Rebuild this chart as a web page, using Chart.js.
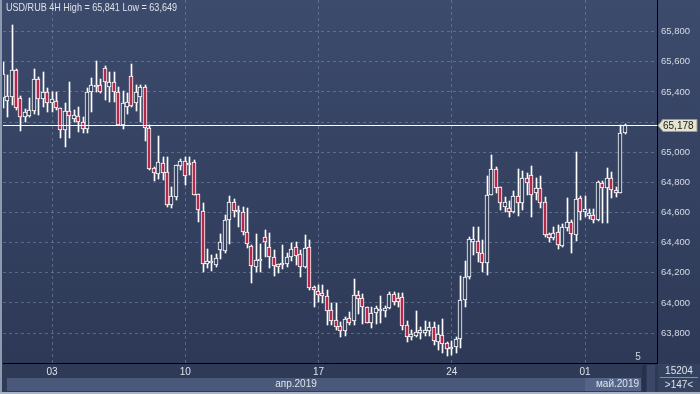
<!DOCTYPE html>
<html>
<head>
<meta charset="utf-8">
<script src="https://cdn.jsdelivr.net/npm/chart.js@4.4.1/dist/chart.umd.min.js"></script>
<style>
html, body { margin:0; padding:0; background:#2c3754; }
#wrap { width:700px; height:394px; }
</style>
</head>
<body>
<div id="wrap"><canvas id="chart" width="700" height="394"></canvas></div>
<script>
// USD/RUB 4H candles
var opens = [65.36,65.342,65.369,65.546,65.358,65.236,65.24,65.276,65.484,65.353,
	65.398,65.325,65.34,65.296,65.148,65.274,65.221,65.243,65.199,65.152,
	65.398,65.435,65.444,65.557,65.435,65.464,65.402,65.181,65.298,65.506,
	65.325,65.369,65.431,65.159,64.897,64.856,64.927,64.867,64.65,64.705,
	64.911,64.942,64.918,64.933,64.721,64.612,64.258,64.263,64.252,64.35,
	64.347,64.55,64.668,64.606,64.60,64.473,64.38,64.241,64.28,64.436,
	64.369,64.303,64.257,64.252,64.259,64.303,64.369,64.325,64.241,64.369,
	64.108,64.081,64.064,64.046,63.953,63.887,63.849,63.816,63.897,63.882,
	64.053,64.031,63.971,63.869,63.931,63.949,63.949,63.964,64.059,64.031,
	64.037,63.854,63.772,63.783,63.802,63.798,63.816,63.842,63.743,63.787,
	63.732,63.694,63.71,63.759,64.019,64.17,64.402,64.411,64.329,64.267,
	64.716,64.887,64.767,64.639,64.628,64.606,64.71,64.661,64.827,64.849,
	64.728,64.761,64.672,64.455,64.433,64.469,64.38,64.499,64.535,64.451,
	64.694,64.601,64.577,64.582,64.55,64.794,64.765,64.827,64.749,64.731,
	65.13];
var highs = [65.60,65.513,65.841,65.55,65.373,65.285,65.358,65.55,65.50,65.532,
	65.424,65.402,65.40,65.296,65.325,65.464,65.28,65.298,65.236,65.424,
	65.49,65.605,65.484,65.572,65.532,65.532,65.431,65.407,65.39,65.586,
	65.446,65.446,65.446,65.181,64.904,65.108,64.966,64.966,64.771,64.913,
	64.955,64.966,64.966,64.949,64.721,64.661,64.356,64.318,64.325,64.46,
	64.584,64.712,64.69,64.643,64.635,64.628,64.385,64.455,64.391,64.484,
	64.462,64.351,64.259,64.385,64.329,64.396,64.402,64.351,64.451,64.418,
	64.112,64.119,64.119,64.086,63.998,64.002,63.876,63.909,63.94,64.157,
	64.081,64.059,63.971,63.971,63.979,64.046,63.979,64.075,64.075,64.064,
	64.068,63.882,63.82,63.949,63.838,63.882,63.876,63.872,63.854,63.892,
	63.743,63.747,63.776,64.179,64.28,64.44,64.502,64.502,64.418,64.842,
	64.982,64.904,64.771,64.701,64.679,64.745,64.887,64.878,64.86,64.909,
	64.827,64.842,64.705,64.462,64.506,64.517,64.524,64.694,64.55,65.0,
	64.71,64.71,64.621,64.621,64.811,64.811,64.893,64.871,64.767,65.181,
	65.185];
var lows = [65.29,65.232,65.313,65.28,65.143,65.203,65.236,65.254,65.247,65.298,
	65.269,65.269,65.28,65.093,65.037,65.093,65.203,65.136,65.126,65.126,
	65.269,65.402,65.391,65.347,65.335,65.335,65.18,65.154,65.254,65.30,
	65.276,65.199,65.077,64.882,64.811,64.82,64.816,64.639,64.628,64.683,
	64.882,64.783,64.849,64.716,64.539,64.207,64.23,64.214,64.24,64.29,
	64.334,64.391,64.568,64.502,64.451,64.362,64.13,64.207,64.207,64.307,
	64.23,64.179,64.201,64.223,64.241,64.278,64.252,64.174,64.23,64.086,
	63.975,64.008,63.998,63.854,63.854,63.82,63.776,63.78,63.854,63.854,
	63.926,63.86,63.865,63.834,63.86,63.865,63.909,63.958,63.986,63.971,
	63.82,63.743,63.754,63.776,63.758,63.78,63.78,63.72,63.687,63.666,
	63.649,63.652,63.666,63.699,63.975,64.157,64.318,64.268,64.207,64.185,
	64.716,64.728,64.617,64.606,64.572,64.599,64.577,64.617,64.716,64.572,
	64.683,64.628,64.44,64.405,64.418,64.356,64.373,64.479,64.329,64.413,
	64.55,64.568,64.557,64.528,64.544,64.533,64.533,64.694,64.701,64.731,
	65.121];
var closes = [65.52,65.373,65.546,65.292,65.236,65.265,65.28,65.484,65.353,65.398,
	65.325,65.351,65.296,65.148,65.274,65.243,65.247,65.203,65.152,65.398,
	65.444,65.444,65.402,65.464,65.464,65.402,65.181,65.329,65.332,65.309,
	65.398,65.431,65.159,64.889,64.86,64.933,64.86,64.65,64.71,64.913,
	64.942,64.845,64.931,64.716,64.617,64.258,64.278,64.274,64.301,64.405,
	64.55,64.668,64.612,64.617,64.473,64.389,64.245,64.285,64.291,64.403,
	64.303,64.245,64.241,64.259,64.303,64.356,64.313,64.241,64.363,64.097,
	64.086,64.053,64.046,63.949,63.882,63.842,63.816,63.891,63.869,64.053,
	64.025,63.971,63.869,63.931,63.964,63.958,63.964,64.059,64.008,64.008,
	63.847,63.772,63.794,63.809,63.82,63.82,63.842,63.747,63.794,63.727,
	63.692,63.703,63.761,64.019,64.174,64.424,64.424,64.334,64.267,64.716,
	64.887,64.761,64.661,64.672,64.606,64.71,64.661,64.827,64.794,64.716,
	64.761,64.665,64.451,64.433,64.462,64.385,64.506,64.535,64.455,64.688,
	64.606,64.621,64.595,64.55,64.805,64.761,64.827,64.749,64.731,65.13,
	65.178];

var tickIdx = [11, 41, 71, 101, 131];
var tickLabels = ['03', '10', '17', '24', '01'];
var yTicks = [63.8, 64.0, 64.2, 64.4, 64.6, 64.8, 65.0, 65.2, 65.4, 65.6, 65.8];
var monthLabels = ['апр.2019', 'май.2019'];
var monthStartIdx = [0, 131];
var lastPrice = 65.178;
var titleText = 'USD/RUB 4H High = 65,841 Low = 63,649';

var upFill = '#34415f';
var downFill = '#b3294c';
var gridColor = 'rgba(125,140,175,0.55)';

function fmt(v) { return v.toFixed(3).replace('.', ','); }

var bodyData = opens.map(function(o, i){ return {x: i, y: [o, closes[i]]}; });
var wickData = lows.map(function(l, i){ return {x: i, y: [l, highs[i]]}; });

Chart.defaults.font.family = '"Liberation Sans", Arial, sans-serif';

// keep candles on whole pixels so the white lines stay sharp
var snapPlugin = {
	id: 'snap',
	beforeDatasetsDraw: function(chart){
		chart.getSortedVisibleDatasetMetas().forEach(function(meta){
			var wick = meta.index === 1;
			meta.data.forEach(function(el){
				el.x = wick ? Math.floor(el.x) + 0.5 : Math.floor(el.x);
				el.y = Math.round(el.y);
				el.base = Math.round(el.base);
				if (!wick && Math.abs(el.base - el.y) < 2) el.y = el.base - 2;
			});
		});
	}
};

var framePlugin = {
	id: 'frame',
	beforeDraw: function(chart){
		var c = chart.ctx, a = chart.chartArea;
		var g = c.createLinearGradient(0, 0, 0, a.bottom);
		g.addColorStop(0, '#3c4a6c');
		g.addColorStop(1, '#2d3956');
		c.save();
		c.fillStyle = g;
		c.fillRect(0, 0, 700, a.bottom);
		c.fillStyle = '#2f3a57';
		c.fillRect(0, a.bottom, 700, 394 - a.bottom);
		c.restore();
	},
	afterDatasetsDraw: function(chart){
		var c = chart.ctx, a = chart.chartArea, ys = chart.scales.y;
		var py = Math.round(ys.getPixelForValue(lastPrice)) + 0.5;
		c.save();
		c.strokeStyle = '#ffffff';
		c.lineWidth = 1;
		c.beginPath();
		c.moveTo(a.left, py);
		c.lineTo(a.right, py);
		c.stroke();
		c.restore();
	},
	afterDraw: function(chart){
		var c = chart.ctx, a = chart.chartArea, xs = chart.scales.x, ys = chart.scales.y;
		c.save();
		// title
		c.fillStyle = '#dfe3ea';
		c.font = '11px "Liberation Sans", Arial, sans-serif';
		c.textBaseline = 'middle';
		c.textAlign = 'left';
		c.fillText(titleText, 6, 8, 171);

		// "5" marker
		c.fillStyle = '#d0d5de';
		c.font = '10px "Liberation Sans", Arial, sans-serif';
		c.textAlign = 'center';
		c.fillText('5', 638, 357);

		// month band row
		var rowTop = a.bottom + 15, rowH = 13;
		var x0 = Math.max(a.left + 4, xs.getPixelForValue(monthStartIdx[0]));
		var x1 = Math.round(xs.getPixelForValue(monthStartIdx[1]));
		var x2 = a.right - 16;
		c.fillStyle = '#4a5879';
		c.fillRect(x0, rowTop, x1 - x0, rowH);
		c.fillStyle = '#55658a';
		c.fillRect(x1, rowTop, x2 - x1, rowH);
		c.fillStyle = '#27314b';
		c.fillRect(x2 + 1, a.bottom + 2, 4, 394 - a.bottom - 4);
		c.fillStyle = '#3a4766';
		c.fillRect(x2 + 6, a.bottom + 2, 8, 394 - a.bottom - 4);
		c.fillStyle = '#dfe3ea';
		c.font = '10px "Liberation Sans", Arial, sans-serif';
		c.textAlign = 'center';
		c.fillText(monthLabels[0], (x0 + x1) / 2, rowTop + 6.5);
		c.textAlign = 'right';
		c.fillText(monthLabels[1], x2 - 2, rowTop + 6.5);

		// right bottom box
		c.fillStyle = '#34415f';
		c.fillRect(a.right + 1, a.bottom + 1, 700 - a.right - 1, 394 - a.bottom - 1);
		c.strokeStyle = '#8390a8';
		c.beginPath();
		c.moveTo(a.right + 3, 377.5);
		c.lineTo(698, 377.5);
		c.stroke();
		c.fillStyle = '#dfe3ea';
		c.textAlign = 'center';
		c.fillText('15204', 679, 371);
		c.fillText('>147<', 679, 385);

		// outer light border
		c.fillStyle = '#8e9ab0';
		c.fillRect(0, 0, 2, 394);
		c.fillStyle = '#aab3c4';
		c.fillRect(0, 392, 700, 2);

		// last price tag
		var py = Math.round(ys.getPixelForValue(lastPrice)) + 0.5;
		c.fillStyle = '#e4e4d0';
		c.strokeStyle = '#9a9a88';
		c.beginPath();
		c.moveTo(a.right + 1, py);
		c.lineTo(a.right + 6, py - 6);
		c.lineTo(697, py - 6);
		c.lineTo(697, py + 6);
		c.lineTo(a.right + 6, py + 6);
		c.closePath();
		c.fill();
		c.stroke();
		c.fillStyle = '#1a1a1a';
		c.font = '10px "Liberation Sans", Arial, sans-serif';
		c.textAlign = 'left';
		c.fillText(fmt(lastPrice), a.right + 6, py + 0.5);
		c.restore();
	}
};

new Chart(document.getElementById('chart'), {
	type: 'bar',
	data: {
		datasets: [
			{
				label: 'body',
				data: bodyData,
				order: 0,
				grouped: false,
				barThickness: 4,
				borderWidth: 1,
				borderSkipped: false,
				borderColor: '#ffffff',
				backgroundColor: function(ctx){
					var i = ctx.dataIndex;
					return closes[i] < opens[i] ? downFill : upFill;
				}
			},
			{
				label: 'wick',
				data: wickData,
				order: 1,
				grouped: false,
				barThickness: 1,
				borderWidth: 0,
				backgroundColor: '#ffffff'
			}
		]
	},
	options: {
		responsive: false,
		animation: false,
		layout: { padding: { left: 3, top: 0, right: 0, bottom: 0 } },
		plugins: {
			legend: { display: false },
			tooltip: { enabled: false },
			title: { display: false }
		},
		scales: {
			x: {
				type: 'linear',
				min: -0.036,
				max: 147.2,
				offset: false,
				afterBuildTicks: function(s){ s.ticks = tickIdx.map(function(v){ return {value: v}; }); },
				afterFit: function(s){ s.height = 31; s.paddingLeft = 0; s.paddingRight = 0; },
				grid: { color: gridColor, drawTicks: false, offset: false },
				border: { display: true, color: '#000000', width: 1, dash: [3, 3] },
				ticks: {
					padding: 3,
					autoSkip: false,
					maxRotation: 0,
					color: '#dfe3ea',
					font: { size: 10 },
					callback: function(v){ return tickLabels[tickIdx.indexOf(v)]; }
				}
			},
			y: {
				position: 'right',
				min: 63.601,
				max: 66.010,
				afterBuildTicks: function(s){ s.ticks = yTicks.map(function(v){ return {value: v}; }); },
				afterFit: function(s){ s.width = 43; s.paddingTop = 0; s.paddingBottom = 0; },
				grid: { color: gridColor, drawTicks: false },
				border: { display: true, color: '#000000', width: 1, dash: [3, 3] },
				ticks: {
					padding: 4,
					color: '#d6dbe4',
					font: { size: 9.5 },
					callback: function(v){ return fmt(v); }
				}
			}
		}
	},
	plugins: [snapPlugin, framePlugin]
});
</script>
</body>
</html>
